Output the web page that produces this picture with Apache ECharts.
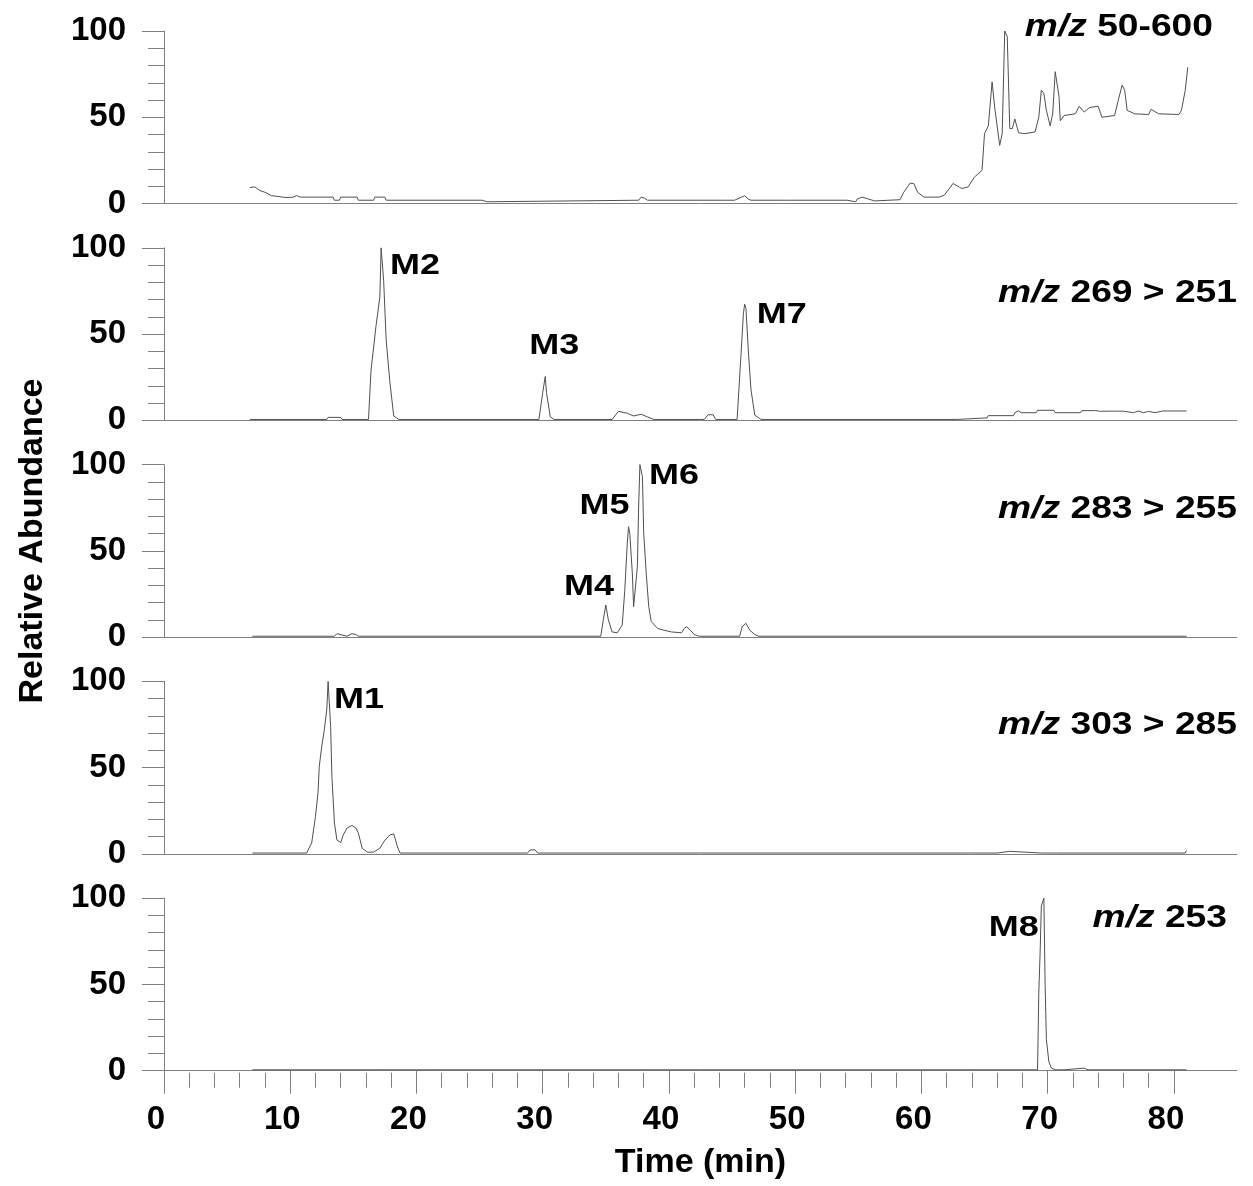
<!DOCTYPE html>
<html>
<head>
<meta charset="utf-8">
<script src="https://cdn.jsdelivr.net/npm/echarts@6/dist/echarts.min.js"></script>
<style>
html,body{margin:0;padding:0;background:#fff;}
#c{width:1253px;height:1186px;}
</style>
</head>
<body>
<div id="c"></div>
<script>
// ---- data (time in min, relative abundance) ----
const tic = [[6.8,9.3],[7.2,9.6],[7.6,7.5],[8.0,6.5],[8.5,4.6],[9.6,3.5],[10.2,3.6],[10.5,4.6],[10.8,3.7],[13.4,3.7],[13.5,1.9],[13.9,1.9],[14.0,3.7],[15.3,3.7],[15.4,1.9],[16.6,1.9],[16.7,3.7],[17.5,3.7],[17.6,1.9],[25.2,1.9],[25.3,1.0],[25.6,1.0],[25.7,1.9],[37.6,1.9],[37.8,3.7],[38.1,3.0],[38.3,1.9],[44.5,1.9],[44.6,1.0],[45.2,1.9],[45.7,3.5],[46.0,4.5],[46.3,2.5],[46.5,1.9],[48.8,1.9],[48.9,1.0],[49.3,1.9],[54.1,1.9],[54.2,1.0],[54.8,1.0],[54.9,2.5],[55.3,3.7],[55.7,2.8],[56.3,1.5],[58.3,2.2],[58.6,6.5],[59.1,11.8],[59.4,11.6],[59.7,6.5],[60.2,3.7],[61.4,3.7],[61.8,4.8],[62.2,8.5],[62.5,11.6],[63.0,9.5],[63.2,8.7],[63.7,9.6],[64.2,15.3],[64.8,19.2],[65.0,40.5],[65.3,45],[65.6,70.5],[65.7,70.5],[65.8,56],[66.2,33.7],[66.4,40.5],[66.6,100],[66.8,96.7],[67.0,43.4],[67.2,43.4],[67.4,49],[67.5,48],[67.7,41],[68.2,40.5],[69.0,41.5],[69.3,50],[69.5,65.7],[69.7,63.8],[69.9,54],[70.2,45],[70.4,52],[70.6,76.4],[70.7,76.4],[70.9,62],[71.0,48],[71.3,51],[72.2,52],[72.5,56.4],[72.9,53],[73.3,55.6],[74.0,56.4],[74.3,50],[75.3,51],[75.6,60],[75.9,68.6],[76.1,65.7],[76.3,54],[76.9,52],[78.0,51.6],[78.2,54.6],[78.8,52],[80.4,51.6],[80.6,54],[80.9,65.7],[81.1,79]];

const mz269 = [[6.8,0.5],[12.9,0.5],[13.0,1.7],[14.0,1.7],[14.1,0.5],[16.2,0.5],[16.4,29],[16.8,55],[17.1,71.5],[17.2,100],[17.4,81],[17.6,46.5],[17.9,21.7],[18.2,2.5],[18.6,0.5],[29.7,0.5],[30.0,16],[30.2,25.4],[30.3,16],[30.6,2],[30.9,0.5],[35.5,0.5],[36.0,5.2],[36.7,4.1],[37.2,2.5],[37.8,3.5],[38.3,2],[38.8,0.5],[42.8,0.5],[43.1,3.2],[43.5,3.2],[43.7,0.5],[45.4,0.5],[45.7,37],[45.9,62],[46.0,67.3],[46.1,65],[46.3,39],[46.5,17.7],[46.8,3],[47.3,0.5],[62.8,0.5],[62.9,1.4],[65.2,1.4],[65.3,2.7],[67.3,2.7],[67.4,4.4],[67.7,5.5],[67.9,4.4],[69.1,4.4],[69.2,5.8],[70.5,5.8],[70.6,4.4],[72.6,4.4],[72.7,5.6],[73.8,5.6],[73.9,4.6],[74.2,5.2],[74.8,5.3],[75.6,5.3],[75.7,4.4],[76.0,5.3],[76.8,4.4],[77.2,5.4],[77.6,4.4],[78.0,5.2],[78.5,4.4],[79.1,5.4],[81.0,5.4]];

const mz283 = [[7.0,0.5],[13.5,0.5],[13.7,2],[14.1,1.2],[14.5,0.5],[14.9,2],[15.2,1.5],[15.4,0.5],[34.6,0.5],[34.8,10],[35.0,18.6],[35.1,19],[35.2,10],[35.5,3],[35.9,2.5],[36.3,7],[36.5,27],[36.7,54.5],[36.8,64],[36.9,60],[37.1,37],[37.2,17.6],[37.3,16.7],[37.5,41],[37.6,76],[37.7,100],[37.9,93],[38.0,60.5],[38.2,37],[38.4,17.6],[38.6,9],[39.1,5],[39.6,4],[40.2,3],[41.0,2.5],[41.2,5],[41.4,6],[41.7,4],[42.0,1.5],[42.4,0.5],[45.6,0.5],[45.8,6],[46.1,8],[46.4,4],[46.8,1.5],[47.1,0.5],[81.0,0.5]];

const mz303 = [[7.0,0.5],[11.3,0.5],[11.7,6.4],[12.0,21.7],[12.2,35.5],[12.3,50.8],[12.5,62.4],[12.7,72],[12.9,84],[13.0,100],[13.2,74],[13.3,45],[13.5,18],[13.7,8],[14.0,6.6],[14.2,11],[14.5,15],[14.9,16.5],[15.2,15],[15.4,12],[15.7,3.3],[16.1,1],[16.6,1],[17.1,3.3],[17.5,8],[17.9,11],[18.2,11.6],[18.5,4],[18.7,0.5],[28.8,0.5],[29.0,2.3],[29.4,2.3],[29.6,0.5],[63.5,0.5],[63.6,1.4],[63.7,0.5],[66.0,0.5],[66.1,1.5],[67.0,1.5],[67.1,0.5],[69.5,0.5],[69.6,1.5],[69.7,0.5],[70.4,0.5],[70.5,1.5],[70.7,0.5],[80.9,0.5],[81.0,2]];

const mz253 = [[7.0,0.5],[69.2,0.5],[69.3,45.5],[69.4,67.5],[69.5,95.5],[69.7,100],[69.8,50],[69.9,18],[70.1,5],[70.3,1.5],[70.6,0.5],[71.3,0.5],[71.4,1.5],[72.9,1.5],[73.2,0.5],[81.0,0.5]];

const traceNames = ['50-600', '269 > 251', '283 > 255', '303 > 285', '253'];
const yTicks = [0, 50, 100];
const xTicks = [0, 10, 20, 30, 40, 50, 60, 70, 80];
const xMinorTicks = [2,4,6,8,12,14,16,18,22,24,26,28,32,34,36,38,42,44,46,48,52,54,56,58,62,64,66,68,72,74,76,78];
// peak annotations: [panel, name, time, abundance]
const peaks = [
  [1, 'M2', 17.2, 100],
  [1, 'M3', 30.2, 25.4],
  [1, 'M7', 46.0, 67.3],
  [2, 'M4', 35.1, 19],
  [2, 'M5', 36.8, 64],
  [2, 'M6', 37.7, 100],
  [3, 'M1', 13.0, 100],
  [4, 'M8', 69.7, 100]
];

// ---- layout ----
const FONT = '"Liberation Sans", Arial, sans-serif';
const AX = '#808080';
const LINE = '#505050';
const panels = [tic, mz269, mz283, mz303, mz253];
const panelTop0 = 31, panelStep = 216.8, panelH = 172.5;
const labelOffsets = {M2:[34,18], M3:[9,-31], M7:[37,11], M4:[-18,-18], M5:[-24,-21], M6:[34,11], M1:[31,18], M8:[-30,30]};
const mzPos = [[1213,27],[1237,293],[1237,509],[1237,725],[1227,918]];
const TXT_SCALE_X = 1.2;

const grids = [], xAxes = [], yAxes = [], series = [];
panels.forEach((d, i) => {
  const last = i === panels.length - 1;
  grids.push({left:164, right:16, top: panelTop0 + panelStep*i, height: panelH});
  xAxes.push({
    type:'value', gridIndex:i, min:0, max:85, offset:2,
    axisLine:{show:true, lineStyle:{color:AX, width:1}},
    axisTick:{show:last, length:23, lineStyle:{color:AX}, customValues: xTicks},
    axisLabel:{show:last, customValues: xTicks, margin:27, padding:[4,16,0,0], fontSize:33, fontWeight:'bold', fontFamily:FONT, color:'#000'},
    splitLine:{show:false},
    name: last ? 'Time (min)' : '', nameLocation:'middle', nameGap:73,
    nameTextStyle:{fontSize:34, fontWeight:'bold', fontFamily:FONT, color:'#000'}
  });
  yAxes.push({
    type:'value', gridIndex:i, min:0, max:100, interval:50,
    axisLine:{show:true, lineStyle:{color:AX, width:1}},
    axisTick:{show:true, length:22, lineStyle:{color:AX}},
    minorTick:{show:true, splitNumber:5, length:16, lineStyle:{color:AX}},
    axisLabel:{margin:38, fontSize:33, fontWeight:'bold', fontFamily:FONT, color:'#000', padding:[6,0,0,0]},
    splitLine:{show:false}
  });
  series.push({
    type:'line', xAxisIndex:i, yAxisIndex:i, data:d, showSymbol:false, symbol:'none',
    lineStyle:{color:LINE, width:1}, silent:true
  });
});
// minor x ticks on bottom panel
xAxes.push({
  type:'value', gridIndex:4, min:0, max:85, offset:2, position:'bottom',
  axisLine:{show:false},
  axisTick:{show:true, length:15, lineStyle:{color:AX}, customValues: xMinorTicks},
  axisLabel:{show:false}, splitLine:{show:false}
});

const graphics = traceNames.map((t, i) => ({
  type:'text', x: mzPos[i][0], y: mzPos[i][1], silent:true, scaleX: TXT_SCALE_X,
  style:{
    text: '{i|m/z}{n| ' + t + '}',
    align:'right', verticalAlign:'middle', fill:'#000',
    fontSize:31, fontWeight:'bold', fontFamily:FONT,
    rich:{
      i:{fontStyle:'italic', fontWeight:'bold', fontSize:31, fontFamily:FONT, fill:'#000'},
      n:{fontWeight:'bold', fontSize:31, fontFamily:FONT, fill:'#000'}
    }
  }
}));
graphics.push({
  type:'text', x:33, y:541, rotation:Math.PI/2, silent:true,
  style:{text:'Relative Abundance', align:'center', verticalAlign:'middle', fill:'#000',
    fontSize:34, fontWeight:'bold', fontFamily:FONT}
});

const chart = echarts.init(document.getElementById('c'), null, {renderer:'canvas'});
chart.setOption({
  animation:false,
  backgroundColor:'#fff',
  grid: grids, xAxis: xAxes, yAxis: yAxes, series: series,
  graphic: graphics
});

// peak labels anchored to data coordinates through the axes' scales
peaks.forEach(p => {
  const pt = chart.convertToPixel({xAxisIndex:p[0], yAxisIndex:p[0]}, [p[2], p[3]]);
  const off = labelOffsets[p[1]];
  graphics.push({
    type:'text', x: pt[0] + off[0], y: pt[1] + off[1], silent:true, scaleX: TXT_SCALE_X,
    style:{text:p[1], align:'center', verticalAlign:'middle', fill:'#000',
      fontSize:30, fontWeight:'bold', fontFamily:FONT}
  });
});
chart.setOption({graphic: graphics}, {replaceMerge:['graphic']});
</script>
</body>
</html>
